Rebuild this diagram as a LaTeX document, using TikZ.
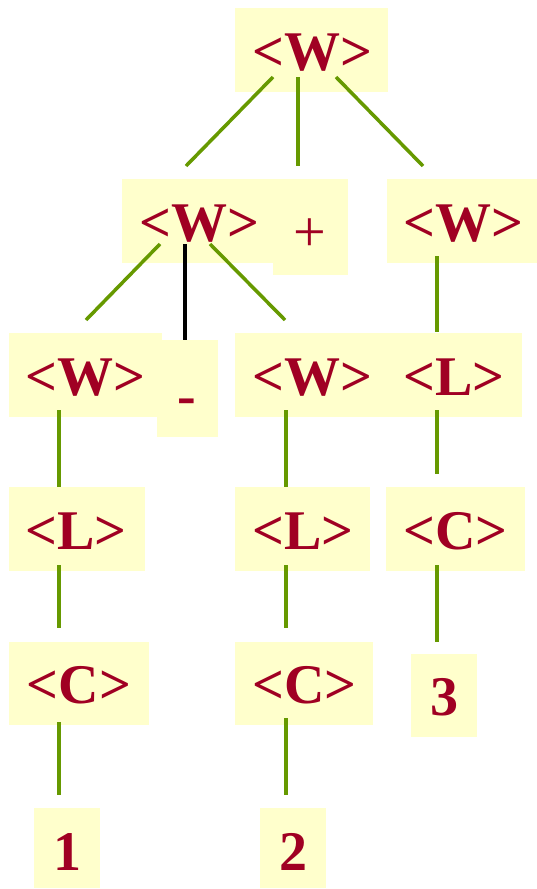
\documentclass[tikz,border=0pt]{standalone}
\usepackage{fontspec}
\setmainfont{Liberation Serif}
\definecolor{boxyellow}{RGB}{255,255,204}
\definecolor{txtred}{RGB}{160,0,35}
\definecolor{lgreen}{RGB}{102,153,0}
\begin{document}
\begin{tikzpicture}[x=1pt,y=-1pt,
  box/.style={rectangle,fill=boxyellow,draw=none,inner sep=0pt},
  lbl/.style={anchor=base,inner sep=0pt,text=txtred,font=\fontsize{56}{60}\selectfont\bfseries},
  plainlbl/.style={anchor=center,inner sep=0pt,text=txtred,font=\fontsize{58}{60}\selectfont},
  edge/.style={draw=lgreen,line width=3.5pt},
  blackedge/.style={draw=black,line width=3.5pt}]
\useasboundingbox (0,0) rectangle (537,889);
% boxes
\node[box,minimum width=153pt,minimum height=84pt] (btop) at (311.5,50) {};
\node[box,minimum width=153pt,minimum height=84pt] (bW2) at (198.5,221) {};
\node[box,minimum width=75pt,minimum height=96pt] (bplus) at (310.5,227) {};
\node[box,minimum width=150pt,minimum height=84pt] (bW2r) at (462,221) {};
\node[box,minimum width=153pt,minimum height=84pt] (bW3a) at (85.5,375) {};
\node[box,minimum width=61pt,minimum height=97pt] (bdash) at (187.5,388.5) {};
\node[box,minimum width=152pt,minimum height=84pt] (bW3b) at (311,375) {};
\node[box,minimum width=135pt,minimum height=84pt] (bL3) at (454.5,375) {};
\node[box,minimum width=136pt,minimum height=84pt] (bL4a) at (77,529) {};
\node[box,minimum width=135pt,minimum height=84pt] (bL4b) at (302.5,529) {};
\node[box,minimum width=139pt,minimum height=84pt] (bC4) at (455.5,529) {};
\node[box,minimum width=140pt,minimum height=83pt] (bC5a) at (79,683.5) {};
\node[box,minimum width=138pt,minimum height=83pt] (bC5b) at (304,683.5) {};
\node[box,minimum width=66pt,minimum height=83pt] (bthree) at (444,695.5) {};
\node[box,minimum width=66pt,minimum height=80pt] (bone) at (67,848) {};
\node[box,minimum width=66pt,minimum height=80pt] (btwo) at (293,848) {};
% labels
\node[lbl] (ttop) at (312,70) {<W>};
\node[lbl] (tW2) at (199,241) {<W>};
\node[plainlbl] (tplus) at (310,235) {+};
\node[lbl] (tW2r) at (463,241) {<W>};
\node[lbl] (tW3a) at (85.5,395) {<W>};
\node[lbl] (tdash) at (187,414) {-};
\node[lbl] (tW3b) at (312,395) {<W>};
\node[lbl] (tL3) at (454,395) {<L>};
\node[lbl] (tL4a) at (76,549) {<L>};
\node[lbl] (tL4b) at (303,549) {<L>};
\node[lbl] (tC4) at (455.5,549) {<C>};
\node[lbl] (tC5a) at (79,703) {<C>};
\node[lbl] (tC5b) at (304.5,703) {<C>};
\node[lbl] (tthree) at (444.5,715) {3};
\node[lbl] (tone) at (67,870) {1};
\node[lbl] (ttwo) at (293,870) {2};
% connector end points
\coordinate (a1) at (273,77);  \coordinate (a2) at (186,166);
\coordinate (b1) at (298,77);  \coordinate (b2) at (298,166);
\coordinate (c1) at (336,77);  \coordinate (c2) at (423,166);
\coordinate (d1) at (160,244); \coordinate (d2) at (86,320);
\coordinate (e1) at (185,244); \coordinate (e2) at (185,340);
\coordinate (f1) at (210,244); \coordinate (f2) at (285,320);
\coordinate (g1) at (437,256); \coordinate (g2) at (437,332);
\coordinate (h1) at (59,410);  \coordinate (h2) at (59,487);
\coordinate (i1) at (286,410); \coordinate (i2) at (286,487);
\coordinate (j1) at (437,410); \coordinate (j2) at (437,474);
\coordinate (k1) at (59,565);  \coordinate (k2) at (59,628);
\coordinate (l1) at (286,565); \coordinate (l2) at (286,628);
\coordinate (m1) at (437,565); \coordinate (m2) at (437,642);
\coordinate (n1) at (59,722);  \coordinate (n2) at (59,795);
\coordinate (o1) at (286,718); \coordinate (o2) at (286,795);
% connectors
\draw[edge] (a1) -- (a2);
\draw[edge] (b1) -- (b2);
\draw[edge] (c1) -- (c2);
\draw[edge] (d1) -- (d2);
\draw[blackedge] (e1) -- (e2);
\draw[edge] (f1) -- (f2);
\draw[edge] (g1) -- (g2);
\draw[edge] (h1) -- (h2);
\draw[edge] (i1) -- (i2);
\draw[edge] (j1) -- (j2);
\draw[edge] (k1) -- (k2);
\draw[edge] (l1) -- (l2);
\draw[edge] (m1) -- (m2);
\draw[edge] (n1) -- (n2);
\draw[edge] (o1) -- (o2);
\end{tikzpicture}
\end{document}
